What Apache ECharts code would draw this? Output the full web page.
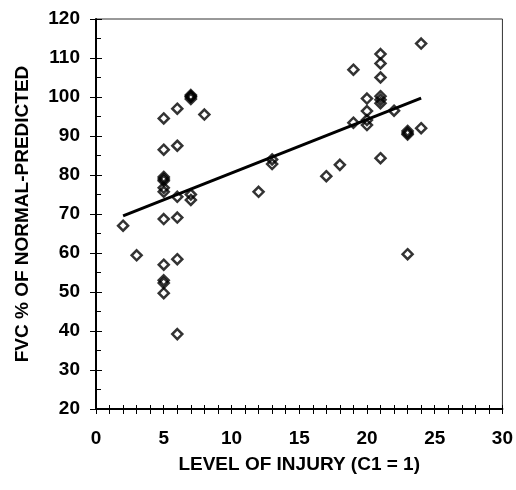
<!DOCTYPE html>
<html><head><meta charset="utf-8">
<script src="https://cdn.jsdelivr.net/npm/echarts@6/dist/echarts.min.js"></script>
<style>html,body{margin:0;padding:0;background:#fff}#c{width:516px;height:490px}</style>
</head><body><div id="c"></div>
<script>
var levelX = [2,3,5,5,5,5,5,5,5,5,5,5,5,5,6,6,6,6,6,6,7,7,7,7,7,7,8,12,13,13,17,18,19,19,20,20,20,20,21,21,21,21,21,21,21,22,23,23,23,23,24,24];
var fvcY   = [67,59.4,94.5,86.5,79.5,79,78.5,76.7,75.7,68.7,57,53,52.3,49.7,97,87.5,74.4,69.1,58.4,39.2,100.5,100,99.5,100.2,75,73.6,95.5,75.7,84,82.8,79.7,82.6,107,93.4,99.6,96.4,94.1,92.8,111,108.6,105,100.2,99.3,98.4,84.3,96.5,91.3,90.8,90.4,59.7,113.7,92];
var fitX = [2,24];
var fitY = [69.5,99.7];
var xTicks = [0,5,10,15,20,25,30];
var yTicks = [20,30,40,50,60,70,80,90,100,110,120];

var pts = levelX.map(function(x,i){return [x,fvcY[i]];});
var line = fitX.map(function(x,i){return [x,fitY[i]];});
var font = '"Liberation Sans", Arial, sans-serif';
var chart = echarts.init(document.getElementById('c'));
var lab = {fontFamily:font,fontWeight:'bold',fontSize:19,color:'#000'};
chart.setOption({
  animation:false,
  grid:{left:96,right:13,top:19,bottom:81,show:true,borderColor:'#333',borderWidth:1,backgroundColor:'transparent'},
  xAxis:[{
    type:'value',min:xTicks[0],max:xTicks[xTicks.length-1],interval:5,
    name:'LEVEL OF INJURY (C1 = 1)',nameLocation:'middle',nameGap:46,
    nameTextStyle:{fontFamily:font,fontWeight:'bold',fontSize:19,color:'#000'},
    axisLine:{lineStyle:{color:'#000',width:2}},
    axisTick:{length:5,lineStyle:{color:'#000',width:1}},
    minorTick:{show:true,splitNumber:5,length:5,lineStyle:{color:'#000',width:1}},
    axisLabel:Object.assign({margin:20},lab),
    splitLine:{show:false}
  },{
    type:'value',min:0,max:30,interval:5,position:'bottom',
    axisLine:{show:false},axisLabel:{show:false},splitLine:{show:false},
    axisTick:{inside:true,length:4,lineStyle:{color:'#000'}},
    minorTick:{show:true,splitNumber:5,length:4,lineStyle:{color:'#000'}}
  }],
  yAxis:[{
    type:'value',min:yTicks[0],max:yTicks[yTicks.length-1],interval:10,
    name:'FVC % OF NORMAL-PREDICTED',nameLocation:'middle',nameGap:64,nameRotate:90,
    nameTextStyle:{fontFamily:font,fontWeight:'bold',fontSize:19,color:'#000'},
    axisLine:{lineStyle:{color:'#000',width:2}},
    axisTick:{length:6,lineStyle:{color:'#000'}},
    minorTick:{show:false},
    axisLabel:Object.assign({margin:16},lab),
    splitLine:{show:false}
  },{
    type:'value',min:20,max:120,interval:10,position:'left',
    axisLine:{show:false},axisLabel:{show:false},splitLine:{show:false},
    axisTick:{inside:true,length:6,lineStyle:{color:'#000'}},
    minorTick:{show:true,splitNumber:2,length:5,lineStyle:{color:'#000'}}
  }],
  series:[{
    type:'line',data:line,symbol:'none',
    lineStyle:{color:'#000',width:3},z:2
  },{
    type:'scatter',data:pts,symbol:'diamond',symbolSize:10,
    itemStyle:{color:'rgba(0,0,0,0)',borderColor:'#000',borderWidth:2.5},z:3
  }]
});
</script></body></html>
